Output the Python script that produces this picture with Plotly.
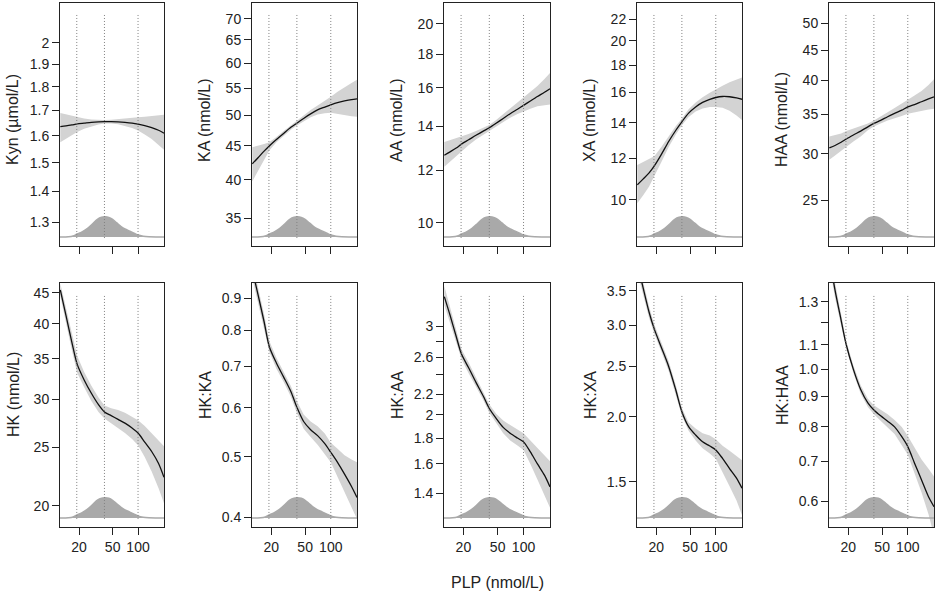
import plotly.graph_objects as go
import numpy as np

# ---------------- data ----------------
PLP = [12, 14, 16.5, 19, 23, 28, 34, 40, 48, 58, 70, 85, 100, 120, 145, 175, 203]

panel_titles = ["Kyn (µmol/L)", "KA (nmol/L)", "AA (nmol/L)", "XA (nmol/L)", "HAA (nmol/L)",
                "HK (nmol/L)", "HK:KA", "HK:AA", "HK:XA", "HK:HAA"]

kyn_fit = [1.635, 1.638, 1.642, 1.646, 1.649, 1.652, 1.654, 1.655, 1.655, 1.654, 1.652, 1.649, 1.645, 1.639, 1.631, 1.621, 1.61]
kyn_hi = [1.69, 1.684, 1.678, 1.672, 1.667, 1.663, 1.661, 1.661, 1.662, 1.664, 1.667, 1.670, 1.672, 1.675, 1.678, 1.681, 1.683]
kyn_lo = [1.575, 1.588, 1.601, 1.614, 1.627, 1.637, 1.644, 1.648, 1.648, 1.645, 1.639, 1.630, 1.620, 1.605, 1.587, 1.566, 1.547]

ka_fit = [42.3, 43.2, 44.2, 45.0, 46.0, 47.0, 48.0, 48.7, 49.5, 50.3, 51.0, 51.5, 51.9, 52.3, 52.6, 52.85, 53.0]
ka_hi = [44.8, 45.0, 45.3, 45.6, 46.4, 47.4, 48.4, 49.1, 50.0, 51.0, 51.8, 52.6, 53.4, 54.3, 55.2, 56.0, 56.6]
ka_lo = [39.8, 41.3, 42.9, 44.3, 45.6, 46.6, 47.6, 48.3, 49.0, 49.7, 50.2, 50.4, 50.5, 50.3, 50.1, 49.9, 49.8]

aa_fit = [12.65, 12.8, 12.97, 13.15, 13.35, 13.56, 13.76, 13.92, 14.14, 14.38, 14.62, 14.85, 15.05, 15.28, 15.52, 15.75, 15.95]
aa_hi = [13.25, 13.33, 13.42, 13.5, 13.62, 13.77, 13.93, 14.06, 14.3, 14.6, 14.9, 15.2, 15.5, 15.8, 16.1, 16.5, 16.85]
aa_lo = [12.15, 12.35, 12.58, 12.82, 13.1, 13.36, 13.6, 13.77, 13.98, 14.2, 14.42, 14.6, 14.75, 14.88, 15.0, 15.05, 15.1]

xa_fit = [10.68, 10.95, 11.25, 11.6, 12.2, 12.9, 13.55, 14.06, 14.6, 15.0, 15.3, 15.5, 15.63, 15.7, 15.68, 15.6, 15.51]
xa_hi = [11.65, 11.8, 11.95, 12.1, 12.6, 13.2, 13.8, 14.25, 14.85, 15.3, 15.65, 15.95, 16.2, 16.45, 16.7, 16.9, 17.05]
xa_lo = [9.86, 10.2, 10.6, 11.1, 11.8, 12.6, 13.3, 13.85, 14.35, 14.7, 14.9, 15.0, 15.0, 14.95, 14.75, 14.45, 14.17]

haa_fit = [30.7, 31.0, 31.4, 31.8, 32.3, 32.8, 33.35, 33.8, 34.2, 34.7, 35.15, 35.6, 36.06, 36.4, 36.8, 37.2, 37.5]
haa_hi = [32.1, 32.3, 32.5, 32.8, 33.1, 33.4, 33.8, 34.2, 34.7, 35.3, 35.9, 36.5, 37.0, 37.7, 38.4, 39.3, 40.2]
haa_lo = [29.3, 29.8, 30.3, 30.8, 31.5, 32.1, 32.9, 33.4, 33.8, 34.2, 34.5, 34.8, 35.1, 35.3, 35.5, 35.7, 35.8]

hk_fit = [45.5, 41.3, 37.2, 34.3, 32.3, 30.7, 29.4, 28.6, 28.2, 27.8, 27.4, 26.9, 26.4, 25.5, 24.6, 23.5, 22.3]
hk_hi = [46.6, 42.5, 38.4, 35.4, 33.3, 31.6, 30.2, 29.3, 29.0, 28.8, 28.5, 28.1, 27.7, 27.1, 26.4, 25.7, 25.1]
hk_lo = [44.4, 40.1, 36.1, 33.2, 31.4, 29.8, 28.6, 27.9, 27.4, 26.9, 26.4, 25.8, 25.2, 24.1, 22.8, 21.4, 20.2]

hkka_fit = [1.0, 0.912, 0.825, 0.752, 0.708, 0.672, 0.637, 0.601, 0.57, 0.553, 0.541, 0.525, 0.5085, 0.49, 0.469, 0.448, 0.43]
hkka_hi = [1.03, 0.94, 0.848, 0.768, 0.722, 0.685, 0.65, 0.615, 0.585, 0.57, 0.56, 0.545, 0.527, 0.515, 0.503, 0.495, 0.49]
hkka_lo = [0.97, 0.886, 0.805, 0.738, 0.693, 0.66, 0.625, 0.588, 0.555, 0.538, 0.523, 0.505, 0.49, 0.466, 0.44, 0.415, 0.397]

hkaa_fit = [3.43, 3.15, 2.86, 2.64, 2.48, 2.32, 2.18, 2.06, 1.97, 1.89, 1.84, 1.80, 1.769, 1.69, 1.60, 1.52, 1.441]
hkaa_hi = [3.6, 3.28, 2.94, 2.7, 2.54, 2.37, 2.22, 2.1, 2.01, 1.95, 1.91, 1.875, 1.84, 1.78, 1.72, 1.66, 1.62]
hkaa_lo = [3.3, 3.04, 2.78, 2.58, 2.42, 2.27, 2.14, 2.02, 1.93, 1.84, 1.78, 1.74, 1.705, 1.6, 1.49, 1.39, 1.31]

hkxa_fit = [3.95, 3.55, 3.18, 2.95, 2.72, 2.5, 2.25, 2.046, 1.915, 1.845, 1.79, 1.757, 1.727, 1.663, 1.59, 1.524, 1.457]
hkxa_hi = [4.05, 3.65, 3.26, 3.01, 2.78, 2.56, 2.3, 2.08, 1.95, 1.9, 1.86, 1.84, 1.81, 1.76, 1.72, 1.68, 1.65]
hkxa_lo = [3.8, 3.45, 3.1, 2.89, 2.67, 2.45, 2.21, 2.01, 1.88, 1.8, 1.74, 1.7, 1.66, 1.57, 1.47, 1.38, 1.294]

hkhaa_fit = [1.55, 1.36, 1.211, 1.099, 1.0, 0.925, 0.878, 0.854, 0.835, 0.818, 0.80, 0.77, 0.741, 0.695, 0.651, 0.61, 0.587]
hkhaa_hi = [1.6, 1.4, 1.24, 1.115, 1.015, 0.94, 0.892, 0.87, 0.855, 0.84, 0.822, 0.8, 0.772, 0.738, 0.705, 0.68, 0.66]
hkhaa_lo = [1.5, 1.32, 1.185, 1.085, 0.985, 0.91, 0.864, 0.84, 0.818, 0.798, 0.778, 0.745, 0.718, 0.668, 0.62, 0.57, 0.525]

fits = [kyn_fit, ka_fit, aa_fit, xa_fit, haa_fit, hk_fit, hkka_fit, hkaa_fit, hkxa_fit, hkhaa_fit]
his = [kyn_hi, ka_hi, aa_hi, xa_hi, haa_hi, hk_hi, hkka_hi, hkaa_hi, hkxa_hi, hkhaa_hi]
los = [kyn_lo, ka_lo, aa_lo, xa_lo, haa_lo, hk_lo, hkka_lo, hkaa_lo, hkxa_lo, hkhaa_lo]

# PLP distribution (relative density)
dens_x = [11.9, 15, 17, 19, 22, 25, 29, 33, 37, 41, 45, 50, 56, 63, 70, 80, 90, 100, 115, 135, 165, 203]
dens_y = [0.0, 0.01, 0.05, 0.15, 0.27, 0.42, 0.66, 0.88, 0.98, 1.0, 0.97, 0.87, 0.7, 0.52, 0.4, 0.29, 0.19, 0.1, 0.04, 0.01, 0.0, 0.0]

# reference PLP values (dotted lines)
ref_lines = [18.8, 40, 100]

x_ticks = [20, 50, 100]
x_limits = [11.9, 203]

y_ticks = [
    [1.3, 1.4, 1.5, 1.6, 1.7, 1.8, 1.9, 2],
    [35, 40, 45, 50, 55, 60, 65, 70],
    [10, 12, 14, 16, 18, 20],
    [10, 12, 14, 16, 18, 20, 22],
    [25, 30, 35, 40, 45, 50],
    [20, 25, 30, 35, 40, 45],
    [0.4, 0.5, 0.6, 0.7, 0.8, 0.9],
    [1.4, 1.6, 1.8, 2, 2.2, 2.4, 2.6, 2.8, 3],
    [1.5, 2.0, 2.5, 3.0, 3.5],
    [0.6, 0.7, 0.8, 0.9, 1.0, 1.1, 1.2, 1.3],
]
y_ticktext = [
    ["1.3", "1.4", "1.5", "1.6", "1.7", "1.8", "1.9", "2"],
    ["35", "40", "45", "50", "55", "60", "65", "70"],
    ["10", "12", "14", "16", "18", "20"],
    ["10", "12", "14", "16", "18", "20", "22"],
    ["25", "30", "35", "40", "45", "50"],
    ["20", "25", "30", "35", "40", "45"],
    ["0.4", "0.5", "0.6", "0.7", "0.8", "0.9"],
    ["1.4", "1.6", "1.8", "2", "2.2", "", "2.6", "", "3"],
    ["1.5", "2.0", "2.5", "3.0", "3.5"],
    ["0.6", "0.7", "0.8", "0.9", "1.0", "1.1", "", "1.3"],
]
y_limits = [
    [1.228, 2.20], [31.8, 73.9], [9.22, 21.5], [8.18, 23.6], [20.9, 54.2],
    [18.46, 46.7], [0.3855, 0.9525], [1.20, 3.65], [1.227, 3.62], [0.5425, 1.398],
]

# ---------------- layout geometry (pixels) ----------------
W, H = 936, 595
lefts = [60, 252, 444, 637, 829]
rights = [164, 357, 550, 742, 934]
rows = [(3, 246), (283, 527)]
title_centers = [120, 395]

FONT = "Liberation Sans, Arial, Helvetica, sans-serif"
INK = "#222222"
BAND = "#d3d3d3"
DENS = "#a9a9a9"

fig = go.Figure()
layout = dict(width=W, height=H, margin=dict(l=0, r=0, t=0, b=0),
              plot_bgcolor="white", paper_bgcolor="white", showlegend=False,
              font=dict(family=FONT, size=14, color=INK))
shapes = []
annotations = []

for i in range(10):
    r, c = divmod(i, 5)
    k = i + 1
    xa = f"x{k}" if k > 1 else "x"
    ya = f"y{k}" if k > 1 else "y"
    yd = f"y{k + 10}"
    top, bot = rows[r]
    xdom = [lefts[c] / W, rights[c] / W]
    ydom = [(H - bot) / H, (H - top) / H]

    layout[f"xaxis{k}"] = dict(
        domain=xdom, anchor=ya, type="log",
        range=[np.log10(x_limits[0]), np.log10(x_limits[1])],
        tickvals=x_ticks, ticktext=[str(v) for v in x_ticks],
        showticklabels=(r == 1), ticks="outside", ticklen=7, tickwidth=1, tickcolor=INK,
        showline=True, linecolor=INK, linewidth=1, mirror=True,
        showgrid=False, zeroline=False, tickfont=dict(size=14, color=INK, family=FONT))
    layout[f"yaxis{k}"] = dict(
        domain=ydom, anchor=xa, type="log",
        range=[np.log10(y_limits[i][0]), np.log10(y_limits[i][1])],
        tickvals=y_ticks[i], ticktext=y_ticktext[i],
        ticks="outside", ticklen=7, tickwidth=1, tickcolor=INK,
        showline=True, linecolor=INK, linewidth=1, mirror=True,
        showgrid=False, zeroline=False, tickfont=dict(size=14, color=INK, family=FONT))
    layout[f"yaxis{k + 10}"] = dict(
        overlaying=ya, anchor=xa, range=[-0.446, 11.6], visible=False,
        showgrid=False, zeroline=False)

    # density of PLP
    fig.add_trace(go.Scatter(x=dens_x, y=dens_y, xaxis=xa, yaxis=yd, mode="lines",
                             fill="tozeroy", fillcolor=DENS,
                             line=dict(color=DENS, width=1.5, shape="spline"),
                             hoverinfo="skip"))
    # confidence band
    fig.add_trace(go.Scatter(x=PLP + PLP[::-1], y=his[i] + los[i][::-1],
                             xaxis=xa, yaxis=ya, mode="lines", fill="toself",
                             fillcolor=BAND, line=dict(width=0), hoverinfo="skip"))
    # fitted curve
    fig.add_trace(go.Scatter(x=PLP, y=fits[i], xaxis=xa, yaxis=ya, mode="lines",
                             line=dict(color="#111111", width=1.3, shape="spline",
                                       smoothing=0.8),
                             hoverinfo="skip"))

    for v in ref_lines:
        shapes.append(dict(type="line", xref=xa, yref=f"{ya} domain",
                           x0=v, x1=v, y0=0.033, y1=0.955, layer="above",
                           line=dict(color="#808080", width=1, dash="1px,2px")))

    annotations.append(dict(
        text=panel_titles[i], textangle=-90, xref="paper", yref="paper",
        x=(lefts[c] - 47) / W, y=(H - title_centers[r]) / H,
        showarrow=False, xanchor="center", yanchor="middle",
        font=dict(size=16, color=INK, family=FONT)))

annotations.append(dict(text="PLP (nmol/L)", xref="paper", yref="paper",
                        x=497 / W, y=(H - 582) / H, showarrow=False,
                        xanchor="center", yanchor="middle",
                        font=dict(size=16, color=INK, family=FONT)))

layout["shapes"] = shapes
layout["annotations"] = annotations
fig.update_layout(**layout)
fig.write_html("out.html", config={"displayModeBar": False},
               post_script="document.body.style.margin='0px';document.body.style.padding='0px';")
